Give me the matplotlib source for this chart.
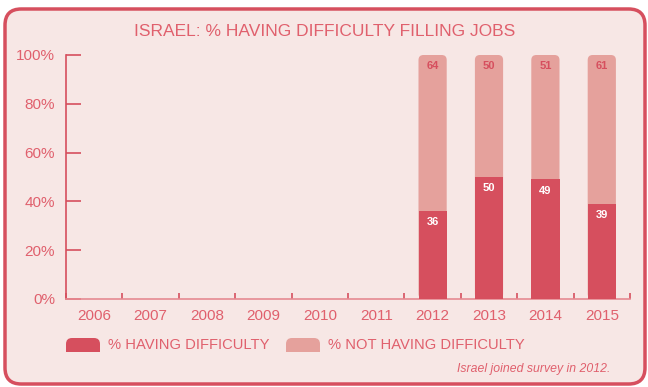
import numpy as np
import matplotlib.pyplot as plt
from matplotlib.patches import FancyBboxPatch

# survey results, Israel only from 2012
years = ['2006', '2007', '2008', '2009', '2010', '2011', '2012', '2013', '2014', '2015']
having = [None, None, None, None, None, None, 36, 50, 49, 39]
not_having = [None, None, None, None, None, None, 64, 50, 51, 61]

DARK = '#d64f5e'
LIGHT = '#e5a19c'
TEXT = '#e0606d'
BG = '#f7e7e5'

plt.rcParams['font.family'] = ['Liberation Sans', 'DejaVu Sans']

W, H = 648, 387
fig = plt.figure(figsize=(W / 100, H / 100), dpi=100)
fig.patch.set_facecolor('white')

# rounded panel behind everything
panel = FancyBboxPatch((5 / W, 3 / H), 640 / W, 375 / H,
                       boxstyle='round,pad=0,rounding_size=0.025',
                       mutation_aspect=W / H,
                       transform=fig.transFigure, facecolor=BG,
                       edgecolor=DARK, linewidth=2.5, zorder=-5)
fig.patches.append(panel)

fig.text(325 / W, 1 - 31 / H, 'ISRAEL: % HAVING DIFFICULTY FILLING JOBS',
         ha='center', va='center', color=TEXT, fontsize=12.5)

x0, x1, ytop, ybot = 66, 630, 55, 299
ax = fig.add_axes([x0 / W, 1 - ybot / H, (x1 - x0) / W, (ybot - ytop) / H])
ax.set_facecolor('none')
ax.set_zorder(1)

x = np.arange(len(years))
ax.set_xlim(-0.5, len(years) - 0.5)
ax.set_ylim(0, 100)

px_x = (x1 - x0) / len(years)
px_y = (ybot - ytop) / 100
bw = 0.5
r = 5 / px_x

for i, (h, n) in enumerate(zip(having, not_having)):
    if h is None:
        continue
    top = FancyBboxPatch((i - bw / 2, 0), bw, h + n,
                         boxstyle='round,pad=0,rounding_size=%f' % r,
                         mutation_aspect=px_x / px_y,
                         facecolor=LIGHT, edgecolor='none', zorder=2)
    ax.add_patch(top)
    ax.bar(i, h, width=bw, color=DARK, edgecolor='none', zorder=3)
    ax.text(i, h - 2.5, str(h), ha='center', va='top', color='white',
            fontsize=8, fontweight='bold', zorder=4)
    ax.text(i, h + n - 2.5, str(n), ha='center', va='top', color=DARK,
            fontsize=8, fontweight='bold', zorder=4)

for s in ['top', 'right']:
    ax.spines[s].set_visible(False)
ax.spines['left'].set_color(DARK)
ax.spines['left'].set_linewidth(1.2)
ax.spines['bottom'].set_color('#e68a91')
ax.spines['bottom'].set_linewidth(1.2)

ax.set_yticks(range(0, 101, 20))
ax.set_yticklabels(['%d%%' % v for v in range(0, 101, 20)])
ax.tick_params(axis='y', direction='in', length=11, width=1.2, color=DARK,
               labelcolor=TEXT, labelsize=11, pad=8)

ax.set_xticks(x)
ax.set_xticklabels(years)
ax.tick_params(axis='x', which='major', length=0, labelcolor=TEXT,
               labelsize=11, pad=7)
ax.set_xticks(np.arange(-0.5, len(years)), minor=True)
ax.tick_params(axis='x', which='minor', direction='in', length=4,
               width=1.2, color=DARK)

# legend drawn by hand with rounded-top swatches
for lx, color, label in [(66, DARK, '% HAVING DIFFICULTY'),
                         (286, LIGHT, '% NOT HAVING DIFFICULTY')]:
    sw = FancyBboxPatch((lx / W, 1 - 352 / H), 34 / W, 14 / H,
                        boxstyle='round,pad=0,rounding_size=%f' % (6 / W),
                        mutation_aspect=W / H,
                        transform=fig.transFigure, facecolor=color,
                        edgecolor='none', zorder=2)
    fig.patches.append(sw)
    sq = plt.Rectangle((lx / W, 1 - 352 / H), 34 / W, 6 / H,
                       transform=fig.transFigure, facecolor=color,
                       edgecolor='none', zorder=2)
    fig.patches.append(sq)
    fig.text((lx + 42) / W, 1 - 345 / H, label, ha='left', va='center',
             color=TEXT, fontsize=10.6)

fig.text(610 / W, 1 - 369 / H, 'Israel joined survey in 2012.', ha='right',
         va='center', color=TEXT, fontsize=8.8, style='italic')

fig.savefig('out.png', dpi=100, facecolor=fig.get_facecolor())
